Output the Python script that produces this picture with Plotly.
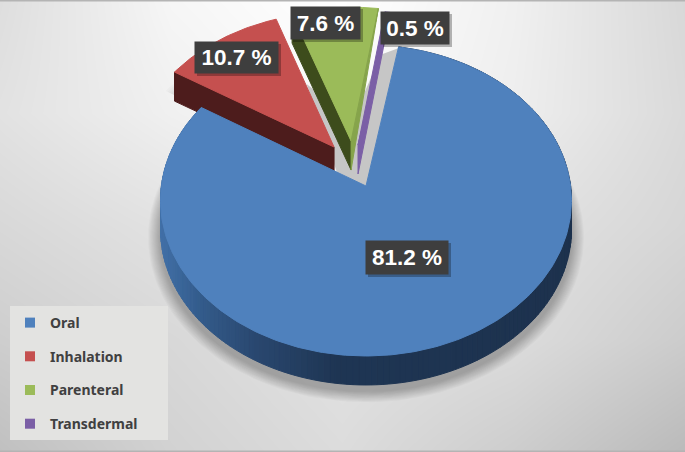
import math
import plotly.graph_objects as go

categories = ["Oral", "Inhalation", "Parenteral", "Transdermal"]
shares = [81.2, 10.7, 7.6, 0.5]
top_colors = ["#4f81bd", "#c5504f", "#9bbb59", "#7b5fa6"]
wall_colors = ["#1f3553", "#4d1c1c", "#3d4c1c", "#6a4f92"]
side_colors = ["#1f3553", "#4d1c1c", "#86a44b", "#7b5fa6"]

bg_x = [0, 171, 342, 514, 685]
bg_y = [0, 113, 226, 339, 452]
bg_grey = [
    [222, 246, 255, 240, 216],
    [226, 240, 250, 238, 218],
    [216, 226, 232, 226, 214],
    [206, 216, 226, 220, 204],
    [192, 210, 220, 205, 186],
]

# Layout of the drawing
W, H = 685, 452
CX, CY, RX = 366.0, 186.0, 204.6
PA, PK = -136.8, 0.0932          # perspective of the disc
DEPTH = 29.0
START_DEG = 10.0
EXPLODE = [(0.0, 0.0), (-0.16, 0.259), (-0.075, 0.30), (-0.04, 0.273)]


def project(deg, r=1.0, off=(0.0, 0.0)):
    a = math.radians(deg)
    u = r * math.sin(a) + off[0]
    v = r * math.cos(a) + off[1]
    d = 1 + PK * v
    return CX + RX * u / d, (PA * v + CY) / d


spans = []
acc = START_DEG
for s in shares:
    sweep = s / sum(shares) * 360
    spans.append((acc, acc + sweep))
    acc += sweep


def arc(a0, a1, r=1.0, off=(0.0, 0.0), step=2.0):
    n = max(2, int(abs(a1 - a0) / step) + 1)
    return [project(a0 + (a1 - a0) * i / (n - 1), r, off) for i in range(n)]


def poly(points, color, line=None, dy=0.0):
    xs = [p[0] for p in points] + [points[0][0]]
    ys = [p[1] + dy for p in points] + [points[0][1] + dy]
    return go.Scatter(
        x=xs, y=ys, mode="lines", fill="toself", fillcolor=color,
        line=dict(color=line or "rgba(0,0,0,0)", width=1.0 if line else 0),
        hoverinfo="skip", showlegend=False,
    )


def wall_shade(x):
    stops = [(160, (66, 113, 168)), (200, (52, 92, 140)), (255, (42, 72, 112)),
             (335, (31, 54, 84)), (571, (29, 50, 78))]
    for (x0, c0), (x1, c1) in zip(stops, stops[1:]):
        if x <= x1:
            t = max(0.0, (x - x0) / (x1 - x0))
            return "rgb(%d,%d,%d)" % tuple(c0[i] + (c1[i] - c0[i]) * t for i in range(3))
    return "rgb(29,50,78)"


traces = [go.Heatmap(x=bg_x, y=bg_y, z=bg_grey, zmin=0, zmax=255, zsmooth="best",
                     colorscale=[[0, "#000000"], [1, "#ffffff"]], showscale=False,
                     hoverinfo="skip")]

# Soft shadow under the big slice
oral_a0, oral_a1 = spans[0]
for k in range(12, 0, -1):
    pts = arc(oral_a0, oral_a1, 1 + k * 0.005)
    traces.append(poly([project(0, 0.0)] + pts, "rgba(0,0,0,0.022)", dy=DEPTH + 6))
for k in range(5, 0, -1):
    a0, a1 = spans[1]
    pts = arc(a0, a1, 1 + k * 0.012, EXPLODE[1])
    traces.append(poly([project(0, 0.0, EXPLODE[1])] + pts, "rgba(0,0,0,0.018)", dy=DEPTH * 0.8))

# Grey shaded notch left by the pulled slices
notch = [project(0, 0.0), project(oral_a0, 0.99), project(oral_a0 - 5, 0.93),
         project(oral_a0 - 19, 0.45), project(oral_a1 + 34, 0.77), project(oral_a1, 0.17)]
traces.append(poly(notch, "#c6c6c6"))

# Pulled slices, each with its visible side walls
for i in (1, 2, 3):
    a0, a1 = spans[i]
    off = EXPLODE[i]
    apex = project(0, 0.0, off)
    left = project(a0, 1.0, off)
    right = project(a1, 1.0, off)
    low_apex = (apex[0], apex[1] + DEPTH)
    low_left = (left[0], left[1] + DEPTH)
    if i != 3:
        traces.append(poly([apex, left, low_left, low_apex], wall_colors[i], wall_colors[i]))
    traces.append(poly([apex] + arc(a0, a1, 1.0, off, 1.0), top_colors[i], top_colors[i]))
    if i != 1:
        traces.append(poly([right, apex, low_apex], side_colors[i], side_colors[i]))

# Big slice: shaded rim, then top
rim = arc(oral_a0, oral_a1, 1.0, (0, 0), 1.5)
for p, q in zip(rim, rim[1:]):
    c = wall_shade((p[0] + q[0]) / 2)
    traces.append(poly([p, q, (q[0], q[1] + DEPTH), (p[0], p[1] + DEPTH)], c, c))
traces.append(poly([project(0, 0.0)] + arc(oral_a0, oral_a1, 1.0, (0, 0), 1.0), top_colors[0], top_colors[0]))

# Legend entries
for name, col in zip(categories, top_colors):
    traces.append(go.Scatter(
        x=[None], y=[None], mode="markers", name=name, legendgroup=name, showlegend=True,
        marker=dict(symbol="square", size=10, color=col), hoverinfo="skip",
    ))

fig = go.Figure(traces)

label_boxes = [(366, 241, 448, 274), (195, 42, 278, 73), (291, 7, 360, 39), (381, 12, 449, 44)]
shapes = [
    dict(type="rect", xref="x", yref="y", x0=10, y0=306, x1=168, y1=440,
         fillcolor="#e3e3e1", line=dict(width=0), layer="above"),
    dict(type="rect", xref="x", yref="y", x0=0, y0=0, x1=685, y1=1.5,
         fillcolor="#b4b4b4", line=dict(width=0), layer="above"),
    dict(type="rect", xref="x", yref="y", x0=0, y0=450.5, x1=685, y1=452,
         fillcolor="#b4b4b4", line=dict(width=0), layer="above"),
]
annotations = []
for (x0, y0, x1, y1), v in zip(label_boxes, shares):
    shapes.append(dict(type="rect", xref="x", yref="y", x0=x0 + 2, y0=y0 + 2, x1=x1 + 3, y1=y1 + 3,
                       fillcolor="rgba(0,0,0,0.28)", line=dict(width=0), layer="above"))
    annotations.append(dict(
        x=(x0 + x1) / 2, y=(y0 + y1) / 2, xref="x", yref="y", showarrow=False,
        text=f"<b>{v} %</b>", width=x1 - x0, height=y1 - y0, bgcolor="#3e3e3e", borderpad=0,
        align="center", valign="middle",
        font=dict(family="Liberation Sans", size=22.5, color="#ffffff"),
    ))

fig.update_layout(
    width=W, height=H, margin=dict(l=0, r=0, t=0, b=0), autosize=False,
    paper_bgcolor="#e6e6e6", plot_bgcolor="#e6e6e6",
    xaxis=dict(range=[0, W], visible=False, fixedrange=True),
    yaxis=dict(range=[H, 0], visible=False, fixedrange=True),
    shapes=shapes, annotations=annotations,
    legend=dict(x=10 / W, y=1 - 307 / H, xanchor="left", yanchor="top",
                bgcolor="rgba(0,0,0,0)", traceorder="grouped", tracegroupgap=12.5,
                itemwidth=30, font=dict(family="Noto Sans", size=14, color="#404040", weight="bold")),
)
fig.write_html("out.html", config={"displayModeBar": False},
               post_script="document.body.style.margin='0';document.documentElement.style.overflow='hidden';")
